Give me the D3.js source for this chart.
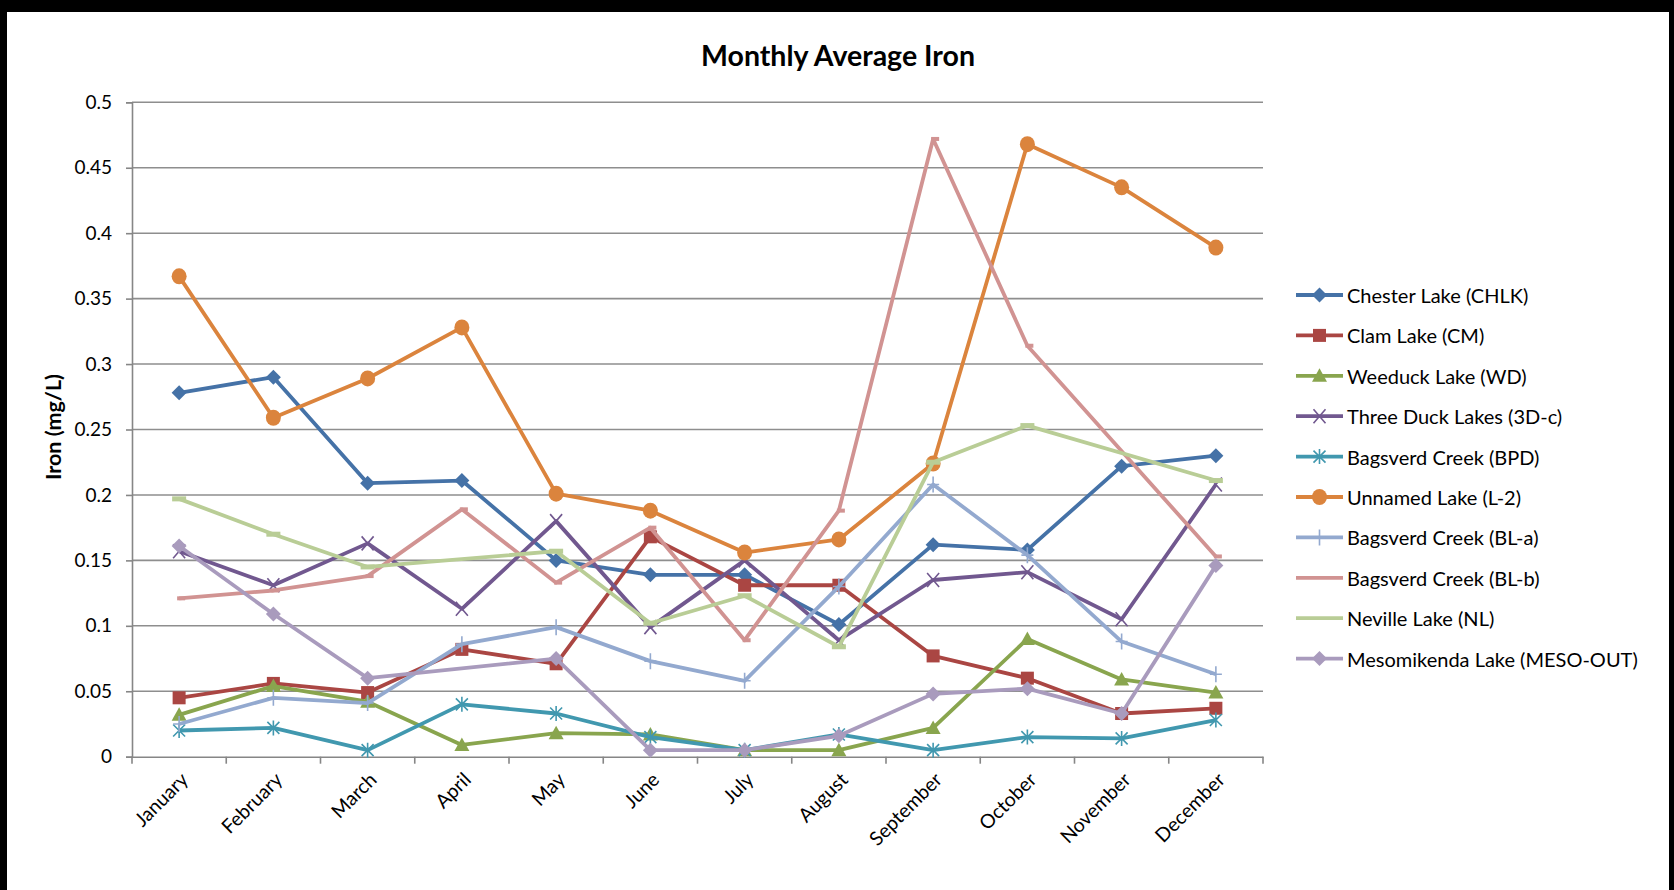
<!DOCTYPE html>
<html><head><meta charset="utf-8">
<script src="https://cdn.jsdelivr.net/npm/d3@7/dist/d3.min.js"></script>
<style>
html,body{margin:0;padding:0;background:#fff;overflow:hidden;}
svg{display:block;}
text{font-family:Lato,"Open Sans",sans-serif;}
</style></head>
<body>
<svg id="chart" width="1674" height="890"></svg>
<script>
const months = ["January","February","March","April","May","June","July","August","September","October","November","December"];
const yTicks = [0,0.05,0.1,0.15,0.2,0.25,0.3,0.35,0.4,0.45,0.5];
const yTickLabels = ["0","0.05","0.1","0.15","0.2","0.25","0.3","0.35","0.4","0.45","0.5"];
const seriesNames = ["Chester Lake (CHLK)","Clam Lake (CM)","Weeduck Lake (WD)","Three Duck Lakes (3D-c)","Bagsverd Creek (BPD)","Unnamed Lake (L-2)","Bagsverd Creek (BL-a)","Bagsverd Creek (BL-b)","Neville Lake (NL)","Mesomikenda Lake (MESO-OUT)"];
const chester   = [0.278,0.290,0.209,0.211,0.150,0.139,0.139,0.101,0.162,0.158,0.222,0.230];
const clam      = [0.045,0.056,0.049,0.082,0.071,0.168,0.131,0.131,0.077,0.060,0.033,0.037];
const weeduck   = [0.032,0.054,0.042,0.009,0.018,0.017,0.005,0.005,0.022,0.090,0.059,0.049];
const threeDuck = [0.157,0.131,0.163,0.113,0.180,0.099,0.150,0.089,0.135,0.141,0.105,0.208];
const bpd       = [0.020,0.022,0.005,0.040,0.033,0.015,0.005,0.017,0.005,0.015,0.014,0.028];
const unnamed   = [0.367,0.259,0.289,0.328,0.201,0.188,0.156,0.166,0.224,0.468,0.435,0.389];
const blA       = [0.025,0.045,0.041,0.086,0.099,0.073,0.058,0.130,0.208,0.154,0.088,0.063];
const blB       = [0.121,0.127,0.138,0.189,0.133,0.175,0.089,0.188,0.472,0.314,null,0.153];
const neville   = [0.197,0.170,0.145,null,0.157,0.102,0.123,0.084,0.225,0.253,null,0.211];
const meso      = [0.161,0.109,0.060,null,0.075,0.005,0.005,0.016,0.048,0.052,0.033,0.146];

const seriesValues = [chester,clam,weeduck,threeDuck,bpd,unnamed,blA,blB,neville,meso];
const colors = ["#4572A7","#AA4643","#89A54E","#71588F","#4198AF","#DB843D","#93A9CF","#D19392","#B9CD96","#A99BBD"];
const markers = ["diamond","square","triangle","x","star","circle","plus","dash","dashLong","diamond"];

const svg = d3.select("#chart");
const W = 1674, H = 890;
const plot = {left:132, right:1263, top:102.3, bottom:756.7};

// frame
svg.append("rect").attr("x",0).attr("y",0).attr("width",W).attr("height",H).attr("fill","#fff");
svg.append("rect").attr("x",0).attr("y",0).attr("width",W).attr("height",12).attr("fill","#000");
svg.append("rect").attr("x",0).attr("y",0).attr("width",7).attr("height",H).attr("fill","#000");
svg.append("rect").attr("x",1669).attr("y",0).attr("width",5).attr("height",H).attr("fill","#000");

const x = d3.scaleBand().domain(months).range([plot.left, plot.right]);
const cx = m => x(m) + x.bandwidth()/2;
const y = d3.scaleLinear().domain([0,0.5]).range([plot.bottom, plot.top]);

// title
svg.append("text").attr("x",838).attr("y",55).attr("text-anchor","middle")
  .attr("dominant-baseline","central").attr("font-weight","bold").attr("font-size",28.5)
  .attr("fill","#000").text("Monthly Average Iron");

// gridlines
svg.append("g").selectAll("line").data(yTicks.slice(1)).join("line")
  .attr("x1",plot.left).attr("x2",plot.right)
  .attr("y1",d=>y(d)).attr("y2",d=>y(d))
  .attr("stroke","#8e8e8e").attr("stroke-width",1.6);

// y axis
const yAxis = d3.axisLeft(y).tickValues(yTicks).tickSize(6).tickPadding(14)
  .tickFormat((d,i)=>yTickLabels[i]);
const gy = svg.append("g").attr("transform",`translate(${plot.left},0)`).call(yAxis);
gy.select(".domain").attr("stroke","#868686").attr("stroke-width",1.6);
gy.selectAll(".tick line").attr("stroke","#868686").attr("stroke-width",1.6);
gy.selectAll(".tick text").attr("font-size",19).attr("fill","#000")
  .attr("font-family","Lato,sans-serif");

// x axis
const xAxis = d3.axisBottom(x).tickSize(0).tickFormat("");
const gx = svg.append("g").attr("transform",`translate(0,${plot.bottom})`).call(xAxis);
gx.select(".domain").attr("stroke","#868686").attr("stroke-width",1.6);
gx.selectAll(".tick").remove();
const bounds = months.map(m=>x(m)).concat([plot.right]);
svg.append("g").selectAll("line").data(bounds).join("line")
  .attr("x1",d=>d).attr("x2",d=>d).attr("y1",plot.bottom).attr("y2",plot.bottom+7)
  .attr("stroke","#868686").attr("stroke-width",1.6);
svg.append("g").selectAll("text").data(months).join("text")
  .attr("transform",d=>`translate(${cx(d)+2},${plot.bottom+16}) rotate(-45)`)
  .attr("text-anchor","end").attr("dy","0.6em")
  .attr("font-size",19.5).attr("fill","#000").text(d=>d);

// y label
svg.append("text").attr("transform",`translate(53,427) rotate(-90)`)
  .attr("text-anchor","middle").attr("dominant-baseline","central")
  .attr("font-weight","bold").attr("font-size",21.5).attr("fill","#000").text("Iron (mg/L)");

// marker drawing
function drawMarker(g, type, px, py, color){
  switch(type){
    case "diamond":
      g.append("path").attr("d",`M${px},${py-7.5}L${px+7.5},${py}L${px},${py+7.5}L${px-7.5},${py}Z`)
        .attr("fill",color); break;
    case "square":
      g.append("rect").attr("x",px-6.5).attr("y",py-6.5).attr("width",13).attr("height",13).attr("fill",color); break;
    case "triangle":
      g.append("path").attr("d",`M${px},${py-7.5}L${px+7.5},${py+6}L${px-7.5},${py+6}Z`).attr("fill",color); break;
    case "circle":
      g.append("ellipse").attr("cx",px).attr("cy",py).attr("rx",7.5).attr("ry",8).attr("fill",color); break;
    case "x":
      g.append("path").attr("d",`M${px-6},${py-7}L${px+6},${py+7}M${px+6},${py-7}L${px-6},${py+7}`)
        .attr("stroke",color).attr("stroke-width",1.6).attr("fill","none"); break;
    case "star":
      g.append("path").attr("d",`M${px-6},${py-6}L${px+6},${py+6}M${px+6},${py-6}L${px-6},${py+6}M${px},${py-7.5}L${px},${py+7.5}`)
        .attr("stroke",color).attr("stroke-width",1.6).attr("fill","none"); break;
    case "plus":
      g.append("path").attr("d",`M${px},${py-8}L${px},${py+8}M${px-6},${py}L${px+6},${py}`)
        .attr("stroke",color).attr("stroke-width",1.6).attr("fill","none"); break;
    case "dash":
      g.append("rect").attr("x",px-2).attr("y",py-2).attr("width",8).attr("height",4).attr("fill",color); break;
    case "dashLong":
      g.append("rect").attr("x",px-7).attr("y",py-2.5).attr("width",14).attr("height",5).attr("fill",color); break;
  }
}

// series
const line = d3.line().x(d=>cx(d.m)).y(d=>y(d.v));
seriesValues.forEach((vals,i)=>{
  const pts = months.map((m,j)=>({m, v:vals[j]})).filter(d=>d.v!==null);
  const g = svg.append("g");
  g.append("path").attr("d",line(pts)).attr("fill","none").attr("stroke",colors[i])
    .attr("stroke-width",3.8).attr("stroke-linejoin","round");
  pts.forEach(d=>drawMarker(g, markers[i], cx(d.m), y(d.v), colors[i]));
});

// legend
const lg = svg.append("g");
seriesNames.forEach((name,i)=>{
  const ly = 295 + i*40.4;
  lg.append("line").attr("x1",1296).attr("x2",1343).attr("y1",ly).attr("y2",ly)
    .attr("stroke",colors[i]).attr("stroke-width",3.8);
  if(markers[i]!=="dash" && markers[i]!=="dashLong") drawMarker(lg, markers[i], 1319.5, ly, colors[i]);
  lg.append("text").attr("x",1347).attr("y",ly).attr("dominant-baseline","central")
    .attr("font-size",20).attr("fill","#000").text(name);
});
</script>
</body></html>
